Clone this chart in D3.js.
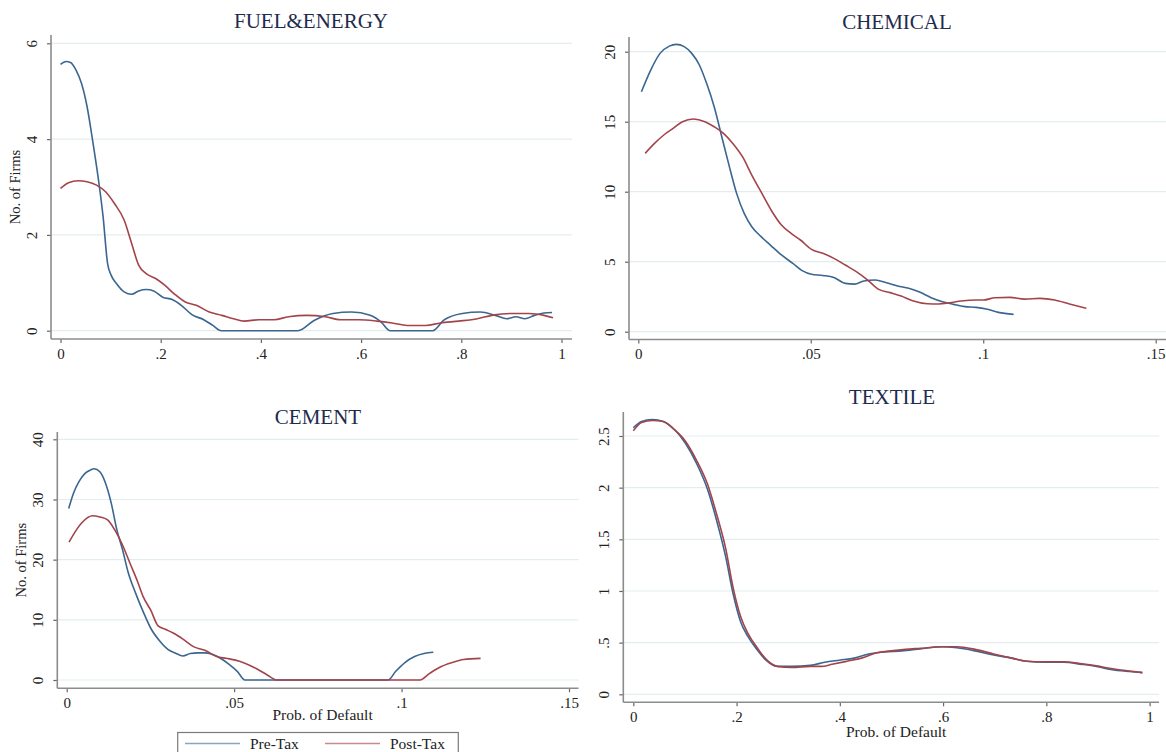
<!DOCTYPE html>
<html>
<head>
<meta charset="utf-8">
<script src="https://cdn.jsdelivr.net/npm/d3@7/dist/d3.min.js"></script>
<style>
  html, body { margin: 0; padding: 0; background: #fff; }
  svg { display: block; }
</style>
</head>
<body>
<svg id="chart" width="1166" height="752"></svg>
<script>
// ---------------- DATA ----------------
const seriesNames = ["Pre-Tax", "Post-Tax"];
const panelTitles = ["FUEL&ENERGY", "CHEMICAL", "CEMENT", "TEXTILE"];

const xTicksUnit = [0, 0.2, 0.4, 0.6, 0.8, 1];
const xTickLabelsUnit = ["0", ".2", ".4", ".6", ".8", "1"];
const xTicksSmall = [0, 0.05, 0.1, 0.15];
const xTickLabelsSmall = ["0", ".05", ".1", ".15"];

const yTicksFuel = [0, 2, 4, 6];
const yTickLabelsFuel = ["0", "2", "4", "6"];
const yTicksChem = [0, 5, 10, 15, 20];
const yTickLabelsChem = ["0", "5", "10", "15", "20"];
const yTicksCement = [0, 10, 20, 30, 40];
const yTickLabelsCement = ["0", "10", "20", "30", "40"];
const yTicksTextile = [0, 0.5, 1, 1.5, 2, 2.5];
const yTickLabelsTextile = ["0", ".5", "1", "1.5", "2", "2.5"];

const fuelPre = [[0,5.56],[0.011,5.62],[0.02,5.6],[0.031,5.44],[0.042,5.16],[0.053,4.68],[0.064,3.98],[0.075,3.21],[0.085,2.38],[0.094,1.4],[0.101,1.16],[0.112,0.98],[0.127,0.81],[0.142,0.76],[0.156,0.83],[0.171,0.86],[0.186,0.83],[0.204,0.7],[0.223,0.65],[0.241,0.53],[0.263,0.33],[0.286,0.23],[0.304,0.11],[0.321,0],[0.474,0],[0.507,0.22],[0.544,0.36],[0.581,0.39],[0.618,0.32],[0.64,0.18],[0.658,0],[0.743,0],[0.765,0.22],[0.802,0.36],[0.838,0.39],[0.868,0.32],[0.891,0.25],[0.909,0.29],[0.927,0.25],[0.946,0.32],[0.965,0.37],[0.981,0.38]];
const fuelPost = [[0,2.97],[0.016,3.09],[0.035,3.13],[0.053,3.11],[0.072,3.04],[0.09,2.9],[0.108,2.65],[0.127,2.31],[0.142,1.82],[0.156,1.37],[0.171,1.19],[0.19,1.09],[0.208,0.95],[0.227,0.77],[0.249,0.6],[0.271,0.53],[0.297,0.39],[0.322,0.32],[0.345,0.25],[0.367,0.2],[0.396,0.23],[0.426,0.23],[0.455,0.29],[0.492,0.32],[0.529,0.29],[0.559,0.23],[0.596,0.23],[0.632,0.2],[0.662,0.16],[0.692,0.11],[0.729,0.11],[0.758,0.16],[0.795,0.2],[0.832,0.25],[0.861,0.32],[0.898,0.36],[0.935,0.36],[0.965,0.32],[0.983,0.27]];

const chemPre = [[0.0009,17.14],[0.0036,18.69],[0.0063,19.88],[0.009,20.4],[0.011,20.52],[0.0133,20.36],[0.0155,19.88],[0.0177,19.05],[0.0198,17.74],[0.022,16.07],[0.0242,13.93],[0.0264,11.79],[0.0285,9.88],[0.0307,8.45],[0.0329,7.5],[0.0356,6.79],[0.0383,6.19],[0.0415,5.48],[0.0448,4.88],[0.0475,4.36],[0.0502,4.1],[0.0535,4.02],[0.0567,3.88],[0.06,3.45],[0.0627,3.4],[0.0654,3.62],[0.0687,3.69],[0.0719,3.5],[0.0752,3.26],[0.0784,3.1],[0.0817,2.81],[0.0849,2.43],[0.0882,2.14],[0.0914,1.95],[0.0947,1.79],[0.0979,1.74],[0.1012,1.6],[0.1044,1.38],[0.1088,1.24]];
const chemPost = [[0.002,12.74],[0.0047,13.45],[0.0074,14.05],[0.0101,14.52],[0.0128,15.0],[0.016,15.19],[0.0193,15.0],[0.022,14.64],[0.0247,14.17],[0.0274,13.45],[0.0302,12.5],[0.0329,11.19],[0.0361,9.76],[0.0388,8.57],[0.0415,7.62],[0.0443,7.02],[0.047,6.55],[0.0502,5.88],[0.0535,5.6],[0.0567,5.24],[0.06,4.76],[0.0632,4.29],[0.0665,3.69],[0.0697,3.02],[0.073,2.79],[0.0762,2.55],[0.0795,2.21],[0.0838,2.0],[0.0871,1.98],[0.0903,2.07],[0.0936,2.19],[0.0979,2.26],[0.1001,2.26],[0.1034,2.43],[0.1077,2.45],[0.112,2.33],[0.1164,2.38],[0.1207,2.26],[0.125,1.98],[0.1299,1.67]];

const cementPre = [[0.0006,28.5],[0.002,31.0],[0.0037,33.0],[0.0054,34.3],[0.0071,34.9],[0.0082,35.1],[0.0099,34.6],[0.0116,32.7],[0.0133,29.4],[0.015,24.9],[0.0167,21.6],[0.0183,18.0],[0.0206,14.4],[0.0228,11.4],[0.0251,8.6],[0.0279,6.4],[0.0302,5.1],[0.0324,4.5],[0.0347,4.0],[0.0369,4.4],[0.0392,4.5],[0.0414,4.5],[0.0442,4.1],[0.0465,3.4],[0.0487,2.5],[0.051,1.4],[0.0532,0],[0.096,0],[0.0982,1.4],[0.101,2.9],[0.1039,3.9],[0.1067,4.4],[0.1095,4.6]];
const cementPost = [[0.0007,22.9],[0.0026,24.7],[0.0048,26.3],[0.0077,27.3],[0.0099,27.1],[0.0122,26.6],[0.0144,24.9],[0.0167,22.4],[0.0189,19.4],[0.0212,16.3],[0.0228,13.9],[0.0251,11.6],[0.0273,9.0],[0.0296,8.4],[0.0318,7.8],[0.0347,6.8],[0.038,5.5],[0.0414,4.9],[0.0448,3.9],[0.0476,3.6],[0.0504,3.3],[0.0532,2.8],[0.0566,1.9],[0.06,0.8],[0.0628,0],[0.1055,0],[0.1084,1.1],[0.1117,2.2],[0.1151,2.9],[0.1185,3.4],[0.1236,3.6]];

const textilePre = [[0,2.58],[0.016,2.64],[0.037,2.66],[0.058,2.64],[0.08,2.56],[0.101,2.43],[0.122,2.24],[0.144,1.98],[0.161,1.69],[0.179,1.33],[0.193,0.98],[0.208,0.7],[0.222,0.56],[0.24,0.43],[0.257,0.33],[0.279,0.27],[0.307,0.27],[0.343,0.28],[0.371,0.31],[0.399,0.33],[0.428,0.35],[0.456,0.39],[0.485,0.41],[0.52,0.42],[0.556,0.44],[0.598,0.46],[0.627,0.45],[0.662,0.42],[0.698,0.38],[0.733,0.35],[0.762,0.32],[0.797,0.31],[0.833,0.31],[0.869,0.29],[0.897,0.27],[0.925,0.24],[0.961,0.22],[0.986,0.21]];
const textilePost = [[0,2.55],[0.016,2.63],[0.037,2.65],[0.058,2.64],[0.08,2.56],[0.101,2.45],[0.122,2.27],[0.144,2.03],[0.161,1.75],[0.179,1.41],[0.193,1.04],[0.208,0.75],[0.222,0.59],[0.24,0.45],[0.257,0.34],[0.279,0.27],[0.307,0.26],[0.343,0.27],[0.364,0.27],[0.385,0.29],[0.414,0.32],[0.442,0.35],[0.47,0.4],[0.499,0.42],[0.527,0.435],[0.556,0.445],[0.598,0.46],[0.627,0.46],[0.662,0.435],[0.698,0.39],[0.733,0.35],[0.762,0.32],[0.797,0.315],[0.833,0.315],[0.869,0.295],[0.897,0.275],[0.925,0.25],[0.961,0.225],[0.986,0.21]];

// ---------------- LAYOUT ----------------
const colors = ["#3a6690", "#a3444b"];
const legendColors = ["#8aa4c2", "#c98a8e"];
const serif = "'Liberation Serif', 'Times New Roman', serif";

const panels = [
  { title: panelTitles[0], pre: fuelPre, post: fuelPost,
    xDom: [0, 1], xRange: [60.5, 561.5], yDom: [0, 6], yRange: [330.7, 43.3],
    axisX: 51, axisY: 339, axisTop: 35, axisRight: 572,
    xTicks: xTicksUnit, xLabels: xTickLabelsUnit, yTicks: yTicksFuel, yLabels: yTickLabelsFuel,
    titleX: 311, titleY: 28, yTitle: true, xTitle: false },
  { title: panelTitles[1], pre: chemPre, post: chemPost,
    xDom: [0, 0.15], xRange: [638.3, 1155.7], yDom: [0, 20], yRange: [331.7, 51.7],
    axisX: 629, axisY: 339.5, axisTop: 37, axisRight: 1166,
    xTicks: xTicksSmall, xLabels: xTickLabelsSmall, yTicks: yTicksChem, yLabels: yTickLabelsChem,
    titleX: 897, titleY: 29, yTitle: false, xTitle: false },
  { title: panelTitles[2], pre: cementPre, post: cementPost,
    xDom: [0, 0.15], xRange: [66.7, 569], yDom: [0, 40], yRange: [680, 439.3],
    axisX: 57.3, axisY: 688.3, axisTop: 432, axisRight: 578.5,
    xTicks: xTicksSmall, xLabels: xTickLabelsSmall, yTicks: yTicksCement, yLabels: yTickLabelsCement,
    titleX: 318, titleY: 424, yTitle: true, xTitle: true, xTitleY: 720 },
  { title: panelTitles[3], pre: textilePre, post: textilePost,
    xDom: [0, 1], xRange: [633.3, 1149.6], yDom: [0, 2.5], yRange: [694.3, 436],
    axisX: 623.3, axisY: 702.3, axisTop: 412, axisRight: 1159,
    xTicks: xTicksUnit, xLabels: xTickLabelsUnit, yTicks: yTicksTextile, yLabels: yTickLabelsTextile,
    titleX: 892, titleY: 404, yTitle: false, xTitle: true, xTitleY: 737 }
];

const svg = d3.select("#chart");

panels.forEach(p => {
  const x = d3.scaleLinear().domain(p.xDom).range(p.xRange);
  const y = d3.scaleLinear().domain(p.yDom).range(p.yRange);
  const g = svg.append("g");

  // gridlines
  g.selectAll("line.grid").data(p.yTicks).join("line")
    .attr("x1", p.axisX).attr("x2", p.axisRight)
    .attr("y1", d => y(d)).attr("y2", d => y(d))
    .attr("stroke", "#e4eded").attr("stroke-width", 1.2);

  // x axis
  const xAxis = d3.axisBottom(x).tickValues(p.xTicks)
    .tickFormat((d, i) => p.xLabels[i]).tickSize(4).tickPadding(5);
  const gx = g.append("g").attr("transform", `translate(0,${p.axisY})`).call(xAxis);
  gx.select(".domain").remove();
  gx.selectAll(".tick line").attr("stroke", "#666").attr("stroke-width", 1.2);
  gx.selectAll(".tick text").attr("font-family", serif).attr("font-size", 15).attr("fill", "#222");

  // y axis
  const yAxis = d3.axisLeft(y).tickValues(p.yTicks)
    .tickFormat((d, i) => p.yLabels[i]).tickSize(4);
  const gy = g.append("g").attr("transform", `translate(${p.axisX},0)`).call(yAxis);
  gy.select(".domain").remove();
  gy.selectAll(".tick line").attr("stroke", "#666").attr("stroke-width", 1.2);
  gy.selectAll(".tick text")
    .attr("font-family", serif).attr("font-size", 15).attr("fill", "#222")
    .attr("x", null).attr("dy", null)
    .attr("text-anchor", "middle")
    .attr("transform", "translate(-14,0) rotate(-90)");

  // axis lines
  g.append("line").attr("x1", p.axisX).attr("x2", p.axisX)
    .attr("y1", p.axisTop).attr("y2", p.axisY)
    .attr("stroke", "#8c8c8c").attr("stroke-width", 1.6);
  g.append("line").attr("x1", p.axisX).attr("x2", p.axisRight)
    .attr("y1", p.axisY).attr("y2", p.axisY)
    .attr("stroke", "#8c8c8c").attr("stroke-width", 1.6);

  // lines
  const line = d3.line().x(d => x(d[0])).y(d => y(d[1])).curve(d3.curveMonotoneX);
  [p.pre, p.post].forEach((s, i) => {
    g.append("path").datum(s).attr("d", line)
      .attr("fill", "none").attr("stroke", colors[i]).attr("stroke-width", 1.6)
      .attr("stroke-linejoin", "round");
  });

  // title
  g.append("text").attr("x", p.titleX).attr("y", p.titleY)
    .attr("text-anchor", "middle").attr("font-family", serif)
    .attr("font-size", 21).attr("fill", "#1e2b4d").text(p.title);

  if (p.yTitle) {
    const cy = (p.axisTop + p.axisY) / 2;
    g.append("text")
      .attr("transform", `translate(${p.axisX - 31},${cy}) rotate(-90)`)
      .attr("text-anchor", "middle").attr("font-family", serif)
      .attr("font-size", 14.5).attr("fill", "#222").text("No. of Firms");
  }
  if (p.xTitle) {
    g.append("text").attr("x", (p.xRange[0] + p.axisRight) / 2).attr("y", p.xTitleY)
      .attr("text-anchor", "middle").attr("font-family", serif)
      .attr("font-size", 15.5).attr("fill", "#222").text("Prob. of Default");
  }
});

// legend
const lg = svg.append("g");
lg.append("rect").attr("x", 177.7).attr("y", 732.5).attr("width", 280.6).attr("height", 30)
  .attr("fill", "#fff").attr("stroke", "#7a7a7a").attr("stroke-width", 1.2);
const legendItems = [
  { x1: 185, x2: 240, tx: 250 },
  { x1: 325, x2: 380, tx: 390 }
];
legendItems.forEach((it, i) => {
  lg.append("line").attr("x1", it.x1).attr("x2", it.x2).attr("y1", 743.5).attr("y2", 743.5)
    .attr("stroke", legendColors[i]).attr("stroke-width", 1.6);
  lg.append("text").attr("x", it.tx).attr("y", 748.5)
    .attr("font-family", serif).attr("font-size", 15.5).attr("fill", "#222")
    .text(seriesNames[i]);
});
</script>
</body>
</html>
